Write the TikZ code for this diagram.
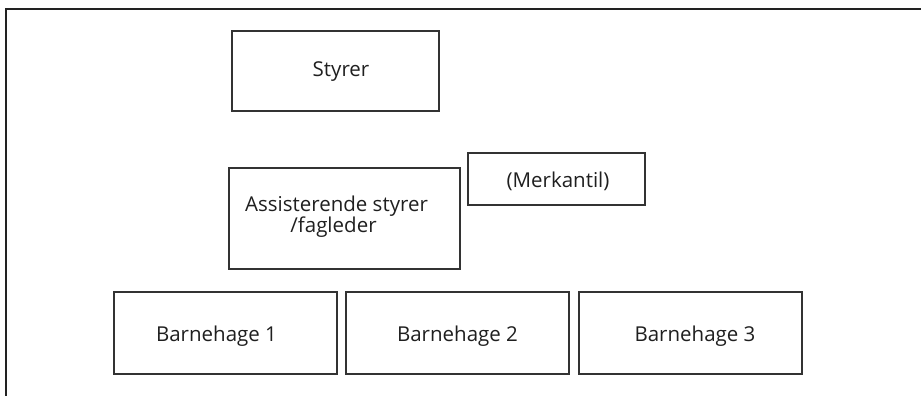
\documentclass[tikz,border=0pt]{standalone}
\usepackage{fontspec}
\setmainfont{Open Sans}
\definecolor{framec}{HTML}{222222}
\definecolor{boxc}{HTML}{333333}
\begin{document}
\begin{tikzpicture}[x=1pt,y=-1pt,
  box/.style={draw=boxc,line width=1.1pt,rectangle,inner sep=0pt},
  txt/.style={font=\fontsize{20.5}{18.7}\selectfont,text=black!88,align=center,inner sep=0pt,anchor=base}]
\useasboundingbox (0,0) rectangle (921,396);
\draw[framec,line width=2.2pt] (6,396) -- (6,9) -- (921,9);
\node[box,minimum width=207pt,minimum height=80pt] (styrer) at (335.5,71) {};
\node[txt] (styrertxt) at (341,76.7) {Styrer};
\node[box,minimum width=231pt,minimum height=101pt] (assist) at (344.5,218.5) {};
\node[txt] (assisttxt1) at (336.5,211) {Assisterende styrer};
\node[txt] (assisttxt2) at (333.5,232.5) {/fagleder};
\node[box,minimum width=177pt,minimum height=52pt] (merk) at (556.5,179) {};
\node[txt] (merktxt) at (558,187.3) {(Merkantil)};
\node[box,minimum width=223pt,minimum height=82pt] (b1) at (225.5,333) {};
\node[txt] (b1txt) at (216.5,341.7) {Barnehage 1};
\node[box,minimum width=223pt,minimum height=82pt] (b2) at (457.5,333) {};
\node[txt] (b2txt) at (457.5,341.7) {Barnehage 2};
\node[box,minimum width=223pt,minimum height=82pt] (b3) at (690.5,333) {};
\node[txt] (b3txt) at (695,341.7) {Barnehage 3};
\end{tikzpicture}
\end{document}
